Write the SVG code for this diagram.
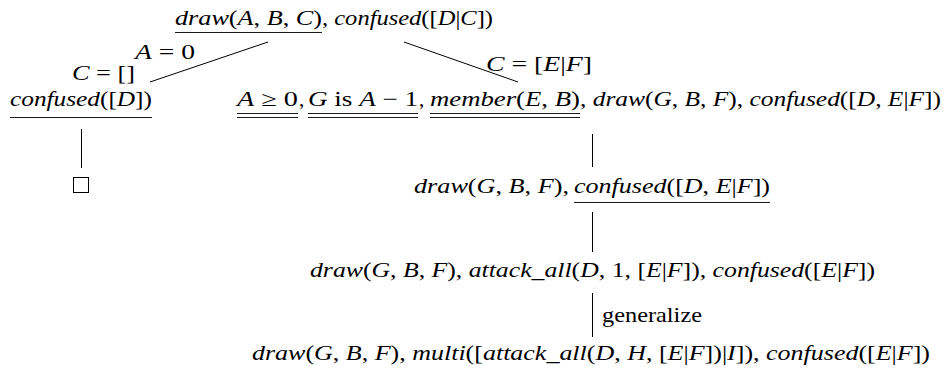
<svg xmlns="http://www.w3.org/2000/svg" width="951" height="375" viewBox="0 0 951 375">
<style>
text { font-family: "Liberation Serif", "DejaVu Serif", serif; font-size: 21px; fill: #000; }
.i { font-style: italic; }
.edge { stroke: #000; stroke-width: 1; fill: none; }
.ul { stroke: #000; stroke-width: 0.9; fill: none; }
</style>
<rect width="951" height="375" fill="#fff"/>
<g id="connectors">
  <line class="edge" x1="268" y1="42" x2="150" y2="82"/>
  <line class="edge" x1="404" y1="42" x2="518" y2="82"/>
  <line class="edge" x1="81.5" y1="129" x2="81.5" y2="168"/>
  <line class="edge" x1="592.5" y1="134" x2="592.5" y2="167"/>
  <line class="edge" x1="592.5" y1="212" x2="592.5" y2="252"/>
  <line class="edge" x1="592.5" y1="293" x2="592.5" y2="337"/>
  <text x="135" y="59" textLength="60" lengthAdjust="spacingAndGlyphs"><tspan class="i">A</tspan> = 0</text>
  <text x="72" y="80" textLength="63" lengthAdjust="spacingAndGlyphs"><tspan class="i">C</tspan> = []</text>
  <text x="486" y="71" textLength="106" lengthAdjust="spacingAndGlyphs"><tspan class="i">C</tspan> = [<tspan class="i">E</tspan>|<tspan class="i">F</tspan>]</text>
  <text x="602" y="322" textLength="100" lengthAdjust="spacingAndGlyphs">generalize</text>
</g>
<g id="n-root">
  <text x="175" y="25" textLength="147" lengthAdjust="spacingAndGlyphs"><tspan class="i">draw</tspan>(<tspan class="i">A</tspan>, <tspan class="i">B</tspan>, <tspan class="i">C</tspan>)</text>
  <text x="322" y="25" textLength="171" lengthAdjust="spacingAndGlyphs">, <tspan class="i">confused</tspan>([<tspan class="i">D</tspan>|<tspan class="i">C</tspan>])</text>
  <line class="ul" x1="175" y1="32.5" x2="322" y2="32.5"/>
</g>
<g id="n-left">
  <text x="10" y="106" textLength="142" lengthAdjust="spacingAndGlyphs"><tspan class="i">confused</tspan>([<tspan class="i">D</tspan>])</text>
  <line class="ul" x1="10" y1="117.5" x2="152" y2="117.5"/>
</g>
<g id="n-empty">
  <rect x="73.5" y="177.5" width="15" height="15" fill="none" stroke="#000" stroke-width="1"/>
</g>
<g id="n-right">
  <text x="237" y="106" textLength="61" lengthAdjust="spacingAndGlyphs"><tspan class="i">A</tspan> ≥ 0</text>
  <text x="299" y="106">,</text>
  <text x="308" y="106" textLength="110" lengthAdjust="spacingAndGlyphs"><tspan class="i">G</tspan> is <tspan class="i">A</tspan> − 1</text>
  <text x="419" y="106">,</text>
  <text x="430" y="106" textLength="150" lengthAdjust="spacingAndGlyphs"><tspan class="i">member</tspan>(<tspan class="i">E</tspan>, <tspan class="i">B</tspan>)</text>
  <text x="580" y="106" textLength="361" lengthAdjust="spacingAndGlyphs">, <tspan class="i">draw</tspan>(<tspan class="i">G</tspan>, <tspan class="i">B</tspan>, <tspan class="i">F</tspan>), <tspan class="i">confused</tspan>([<tspan class="i">D</tspan>, <tspan class="i">E</tspan>|<tspan class="i">F</tspan>])</text>
  <line class="ul" x1="237" y1="113.5" x2="298" y2="113.5"/>
  <line class="ul" x1="237" y1="117.5" x2="298" y2="117.5"/>
  <line class="ul" x1="308" y1="113.5" x2="418" y2="113.5"/>
  <line class="ul" x1="308" y1="117.5" x2="418" y2="117.5"/>
  <line class="ul" x1="430" y1="113.5" x2="580" y2="113.5"/>
  <line class="ul" x1="430" y1="117.5" x2="580" y2="117.5"/>
</g>
<g id="n-3">
  <text x="414" y="193" textLength="155" lengthAdjust="spacingAndGlyphs"><tspan class="i">draw</tspan>(<tspan class="i">G</tspan>, <tspan class="i">B</tspan>, <tspan class="i">F</tspan>),</text>
  <text x="574" y="193" textLength="196" lengthAdjust="spacingAndGlyphs"><tspan class="i">confused</tspan>([<tspan class="i">D</tspan>, <tspan class="i">E</tspan>|<tspan class="i">F</tspan>])</text>
  <line class="ul" x1="574" y1="202.5" x2="770" y2="202.5"/>
</g>
<g id="n-4">
  <text x="310" y="277" textLength="565" lengthAdjust="spacingAndGlyphs"><tspan class="i">draw</tspan>(<tspan class="i">G</tspan>, <tspan class="i">B</tspan>, <tspan class="i">F</tspan>), <tspan class="i">attack_all</tspan>(<tspan class="i">D</tspan>, 1, [<tspan class="i">E</tspan>|<tspan class="i">F</tspan>]), <tspan class="i">confused</tspan>([<tspan class="i">E</tspan>|<tspan class="i">F</tspan>])</text>
</g>
<g id="n-5">
  <text x="252" y="360" textLength="678" lengthAdjust="spacingAndGlyphs"><tspan class="i">draw</tspan>(<tspan class="i">G</tspan>, <tspan class="i">B</tspan>, <tspan class="i">F</tspan>), <tspan class="i">multi</tspan>([<tspan class="i">attack_all</tspan>(<tspan class="i">D</tspan>, <tspan class="i">H</tspan>, [<tspan class="i">E</tspan>|<tspan class="i">F</tspan>])|<tspan class="i">I</tspan>]), <tspan class="i">confused</tspan>([<tspan class="i">E</tspan>|<tspan class="i">F</tspan>])</text>
</g>
</svg>
